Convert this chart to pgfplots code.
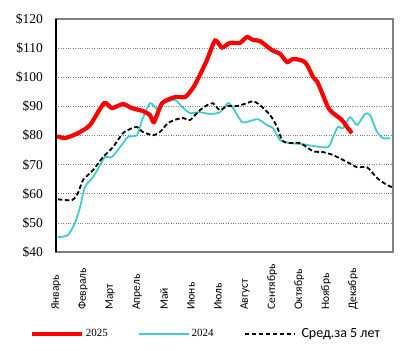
\documentclass[border=0pt]{standalone}
\usepackage{pgfplots}
\pgfplotsset{compat=1.18}
\usepackage{fontspec}
\setmainfont{Liberation Serif}
\newfontfamily\carlito{Carlito}
\definecolor{teal24}{RGB}{62,204,204}
\begin{document}
\begin{tikzpicture}
\path[use as bounding box] (-56bp,-99bp) rectangle (353bp,252bp);
\begin{axis}[
 at={(0,0)}, anchor=south west,
 scale only axis, width=337bp, height=233bp,
 xmin=0, xmax=12.48, ymin=40, ymax=120,
 ytick={40,50,...,120},
 yticklabels={\$40,\$50,\$60,\$70,\$80,\$90,\$100,\$110,\$120},
 xtick={0,...,11},
 xticklabels={Январь,Февраль,Март,Апрель,Май,Июнь,Июль,Август,Сентябрь,Октябрь,Ноябрь,Декабрь},
 ymajorgrids, grid style={dotted, gray, line width=0.7bp},
 major tick length=0pt,
 axis line style={draw=gray, line width=1.3bp},
 yticklabel style={font=\fontsize{13.5bp}{16bp}\selectfont, inner sep=0pt, xshift=-13bp},
 xticklabel style={font=\carlito\fontsize{11.5bp}{13bp}\selectfont, rotate=90, anchor=west, inner sep=0pt},
 xticklabel shift=58bp,
 legend style={draw=none, fill=none, at={(-0.078,-0.352)}, anchor=west, legend columns=3, inner sep=0pt, outer sep=0pt,
   nodes={inner sep=2bp},
   /tikz/every even column/.append style={column sep=28bp}},
 legend image code/.code={\draw[#1] (0bp,0bp) -- (50bp,0bp);},
 extra description/.code={\draw[black,line width=1.6bp] (0,0) -- (0,1);},
]
\addplot[forget plot, teal24, line width=1.8bp, smooth, tension=0.4] coordinates {
(0.07,45.1)(0.44,45.8)(0.70,49.9)(0.89,55.4)(1.07,62.3)(1.37,65.7)(1.63,69.8)(1.81,72.6)(2.07,72.6)(2.37,76.0)(2.67,79.5)(3.00,80.1)(3.19,85.3)(3.48,91.1)(3.74,89.1)(3.96,91.1)(4.41,92.2)(4.67,89.8)(4.96,87.7)(5.33,88.0)(5.70,87.4)(6.07,88.0)(6.37,91.1)(6.56,89.4)(6.89,84.6)(7.19,85.0)(7.48,85.6)(7.81,83.6)(8.04,82.5)(8.30,78.4)(8.67,77.4)(9.15,77.0)(9.52,76.4)(10.07,76.0)(10.26,79.5)(10.44,82.9)(10.63,82.5)(10.89,86.3)(11.15,83.6)(11.44,87.4)(11.63,87.0)(11.89,81.2)(12.11,79.1)(12.37,79.1)};
\addplot[forget plot, black, line width=1.8bp, dash pattern=on 4.5bp off 2.5bp, smooth, tension=0.4] coordinates {
(0.07,58.1)(0.59,57.8)(0.81,60.2)(1.00,64.7)(1.37,68.1)(1.74,72.6)(2.11,76.0)(2.48,80.8)(2.81,82.5)(3.00,82.9)(3.22,81.2)(3.59,80.1)(3.85,81.2)(4.15,84.3)(4.48,85.6)(4.70,86.0)(4.96,85.3)(5.22,87.7)(5.33,88.7)(5.59,90.4)(5.81,91.1)(6.07,88.7)(6.33,90.1)(6.70,90.1)(7.07,91.1)(7.30,91.8)(7.56,90.4)(7.93,87.0)(8.19,82.9)(8.37,78.4)(8.59,77.4)(9.04,77.4)(9.52,74.6)(9.89,74.3)(10.26,73.3)(10.78,70.9)(11.15,69.1)(11.52,69.1)(11.89,65.4)(12.26,63.0)(12.44,62.3)};
\addplot[forget plot, red, line width=4.2bp, smooth, tension=0.4] coordinates {
(0.04,79.8)(0.33,79.1)(0.81,80.8)(1.26,83.6)(1.78,91.1)(2.07,89.4)(2.48,90.8)(2.81,89.4)(3.22,88.4)(3.48,87.0)(3.63,84.6)(3.93,91.1)(4.41,93.2)(4.78,93.2)(5.07,96.3)(5.26,99.5)(5.59,105.9)(5.89,112.6)(6.15,110.2)(6.44,111.8)(6.81,111.8)(7.07,113.8)(7.30,112.8)(7.56,112.4)(8.00,109.3)(8.30,108.0)(8.56,105.2)(8.78,106.3)(9.15,105.6)(9.30,104.2)(9.52,100.1)(9.70,98.0)(10.07,89.8)(10.26,87.7)(10.59,85.3)(10.78,82.9)(10.96,80.8)};
\addlegendimage{red, line width=4.2bp}
\addlegendentry{\fontsize{11bp}{13bp}\selectfont 2025}
\addlegendimage{teal24, line width=1.8bp}
\addlegendentry{\fontsize{11bp}{13bp}\selectfont 2024}
\addlegendimage{black, line width=1.8bp, dash pattern=on 4.5bp off 2.5bp}
\addlegendentry{\hspace{4bp}\carlito\fontsize{14bp}{16bp}\selectfont Сред.за 5 лет}
\end{axis}
\end{tikzpicture}
\end{document}
